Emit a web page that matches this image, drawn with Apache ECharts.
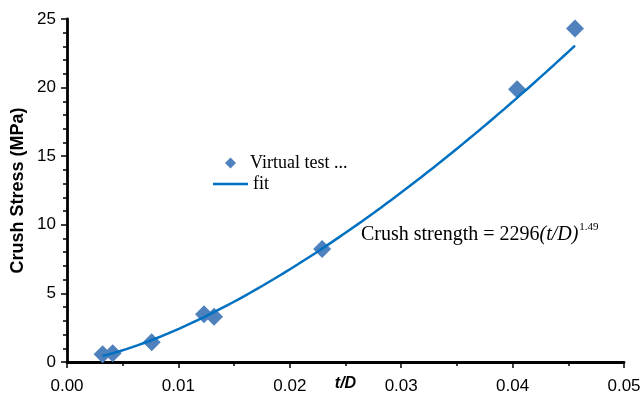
<!DOCTYPE html>
<html>
<head>
<meta charset="utf-8">
<script src="https://cdn.jsdelivr.net/npm/echarts@6/dist/echarts.min.js"></script>
<style>
  html, body { margin: 0; padding: 0; background: #fff; }
  #chart { width: 644px; height: 413px; }
</style>
</head>
<body>
<div id="chart"></div>
<script>
// Virtual crush tests: thickness ratio t/D and measured crush stress (MPa)
const testRatio  = [0.0032, 0.0041, 0.0076, 0.0123, 0.0132, 0.0229, 0.0404, 0.0456];
const testStress = [0.56,   0.63,   1.44,   3.48,   3.30,   8.24,   19.88,  24.30];

// Power-law fit: Crush strength = A (t/D)^B
const fitA = 2296;
const fitB = 1.49;

const xTicks = { min: 0, max: 0.05, step: 0.01 };
const yTicks = { min: 0, max: 25, step: 5 };

const testPoints = testRatio.map((r, i) => [r, testStress[i]]);

// Sample the fitted curve over the tested range
const fitPoints = [];
const r0 = Math.min(...testRatio), r1 = Math.max(...testRatio);
const nSamples = 80;
for (let i = 0; i <= nSamples; i++) {
  const r = r0 + (r1 - r0) * i / nSamples;
  fitPoints.push([r, fitA * Math.pow(r, fitB)]);
}

const markerColor = '#4F81BD';
const lineColor = '#0070C0';
const serif = '"Liberation Serif", "Times New Roman", serif';
const sans = '"Liberation Sans", Arial, sans-serif';

const chart = echarts.init(document.getElementById('chart'), null, { renderer: 'canvas' });

const axisCommon = {
  axisLine: { show: true, onZero: false, lineStyle: { color: '#000', width: 2.8 } },
  axisTick: { show: true, inside: false, length: 6, lineStyle: { color: '#000', width: 1.5 } },
  minorTick: { show: true, length: 4, lineStyle: { color: '#000', width: 1.5 } },
  splitLine: { show: false },
  minorSplitLine: { show: false },
  nameMoveOverlap: false,
  axisLabel: { color: '#000', fontFamily: sans, fontSize: 17 }
};

chart.setOption({
  animation: false,
  backgroundColor: '#fff',
  grid: { left: 67, right: 20, top: 19, bottom: 51, containLabel: false, outerBoundsMode: 'none' },
  xAxis: Object.assign({}, axisCommon, {
    type: 'value',
    min: xTicks.min, max: xTicks.max, interval: xTicks.step,
    name: 't/D',
    nameLocation: 'middle',
    nameGap: 14,
    nameTextStyle: { fontFamily: sans, fontSize: 16, fontWeight: 'bold', fontStyle: 'italic', color: '#000', verticalAlign: 'top' },
    minorTick: Object.assign({}, axisCommon.minorTick, { splitNumber: 2 }),
    axisLabel: Object.assign({}, axisCommon.axisLabel, {
      margin: 16,
      formatter: v => v.toFixed(2)
    })
  }),
  yAxis: Object.assign({}, axisCommon, {
    type: 'value',
    min: yTicks.min, max: yTicks.max, interval: yTicks.step,
    name: 'Crush Stress (MPa)',
    nameLocation: 'middle',
    nameGap: 40,
    nameRotate: 90,
    nameTextStyle: { fontFamily: sans, fontSize: 18, fontWeight: 'bold', color: '#000' },
    minorTick: Object.assign({}, axisCommon.minorTick, { splitNumber: 5 }),
    axisLabel: Object.assign({}, axisCommon.axisLabel, { margin: 11 })
  }),
  legend: [
    {
      data: [{ name: 'Virtual test ...', icon: 'diamond' }],
      left: 220, top: 149,
      itemWidth: 11, itemHeight: 11,
      textStyle: { fontFamily: serif, fontSize: 18, color: '#000', padding: [0, 0, 0, 9] },
      selectedMode: false
    },
    {
      data: [{ name: 'fit', icon: 'rect' }],
      left: 208, top: 170,
      itemWidth: 35, itemHeight: 2.5,
      textStyle: { fontFamily: serif, fontSize: 18, color: '#000', padding: [0, 0, 0, 0] },
      selectedMode: false
    }
  ],
  series: [
    {
      name: 'fit',
      type: 'line',
      data: fitPoints,
      showSymbol: false,
      smooth: false,
      lineStyle: { color: lineColor, width: 2.5 },
      itemStyle: { color: lineColor },
      z: 3
    },
    {
      name: 'Virtual test ...',
      type: 'scatter',
      data: testPoints,
      symbol: 'diamond',
      symbolSize: 18,
      itemStyle: { color: markerColor, opacity: 1 },
      z: 2
    }
  ],
  graphic: [
    {
      type: 'text',
      left: 361,
      top: 222,
      style: {
        text: '{n|Crush strength = ' + fitA + '}{i|(t/D)}{s|' + fitB + '}',
        rich: {
          n: { fontFamily: serif, fontSize: 20, lineHeight: 23, fill: '#000', verticalAlign: 'bottom' },
          i: { fontFamily: serif, fontSize: 20, fontStyle: 'italic', lineHeight: 23, fill: '#000', verticalAlign: 'bottom' },
          s: { fontFamily: serif, fontSize: 11, lineHeight: 23, fill: '#000', verticalAlign: 'top', padding: [0, 0, 0, 1] }
        }
      }
    }
  ]
});
</script>
</body>
</html>
